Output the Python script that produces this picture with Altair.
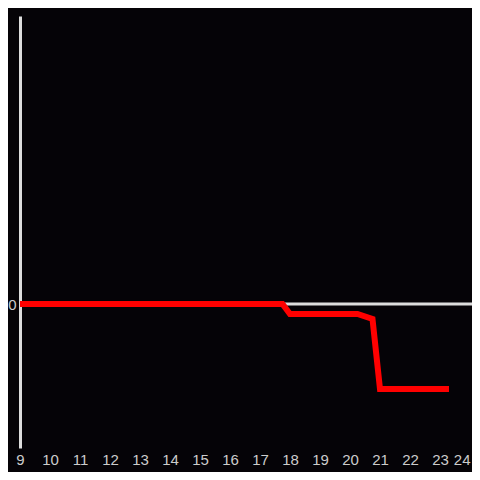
import altair as alt
import pandas as pd

hours = [9, 17.75, 18, 20.25, 20.75, 21, 23.3]
values = [0, 0, -10, -10, -15, -85, -85]
ticks = list(range(9, 25))

df = pd.DataFrame({"hour": hours, "value": values})

xs = alt.Scale(domain=[9, 24.067], nice=False, zero=False)
ys = alt.Scale(domain=[-144, 288], nice=False, zero=False)

zero = alt.Chart(pd.DataFrame({"v": [0]})).mark_rule(color="#dddddd", strokeWidth=3).encode(
    y=alt.Y("v:Q", scale=ys)
)

line = alt.Chart(df).mark_line(color="#ff0000", strokeWidth=6, strokeJoin="miter").encode(
    x=alt.X("hour:Q", scale=xs, axis=alt.Axis(values=ticks, title=None, domain=False, ticks=False,
                                               grid=False, labelColor="#cccccc", labelFontSize=15,
                                               labelPadding=4, labelFont="Liberation Sans",
                                               labelFlush=False,
                                               labelAlign={"condition": {"test": "datum.value == 24", "value": "right"},
                                                           "value": "center"})),
    y=alt.Y("value:Q", scale=ys, axis=alt.Axis(values=[0], title=None, domain=True, domainColor="#dddddd",
                                                domainWidth=3, ticks=False, grid=False,
                                                labelColor="#cccccc", labelFontSize=15, labelPadding=4,
                                                labelFont="Liberation Sans")),
)

chart = alt.layer(zero, line).properties(
    width=452, height=432,
    autosize=alt.AutoSizeParams(type="none"),
    padding={"left": 12, "top": 8, "right": 0, "bottom": 24},
    background="#050307",
).configure_view(stroke=None)

chart.save("out.html", embed_options={"renderer": "svg", "actions": False})
